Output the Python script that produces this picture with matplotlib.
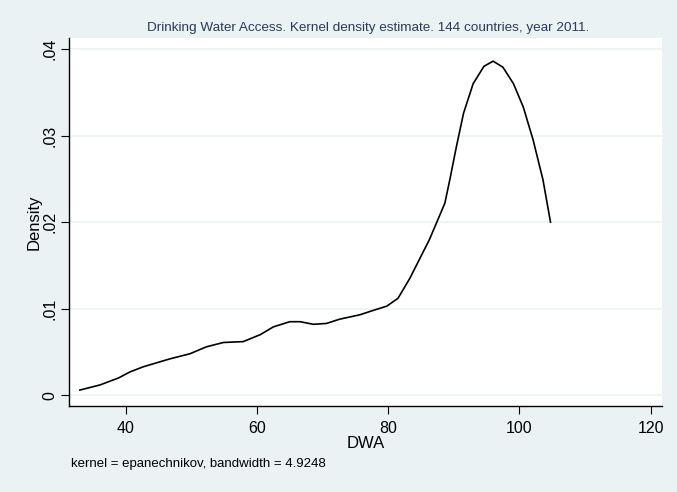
import matplotlib
matplotlib.use("Agg")
import matplotlib.pyplot as plt

# kernel density of DWA
dwa = [33.0, 36.1, 38.9, 40.65, 42.7, 46.7, 49.8, 52.3, 54.9, 57.9, 60.5, 62.5,
       65.0, 66.6, 68.6, 70.6, 72.65, 75.7, 77.7, 79.8, 81.5, 83.3, 86.3, 88.65,
       89.4, 90.4, 91.5, 92.96, 94.6, 96.0, 97.5, 99.1, 100.6, 102.1, 103.6, 104.75]
density = [.0006, .0012, .0020, .0027, .0033, .0042, .0048, .0056, .0061, .0062, .0070, .0079,
           .0085, .0085, .0082, .0083, .0088, .0093, .0098, .0103, .0112, .0135, .0180, .0222,
           .0249, .0287, .0326, .0360, .0380, .0386, .0379, .0360, .0333, .0295, .0249, .0200]

x_ticks = [40, 60, 80, 100, 120]
y_ticks = [0, .01, .02, .03, .04]
y_tick_labels = ["0", ".01", ".02", ".03", ".04"]

title = "Drinking Water Access. Kernel density estimate. 144 countries, year 2011."
note = "kernel = epanechnikov, bandwidth = 4.9248"

bg = "#eaf2f3"
plt.rcParams['font.family'] = ['Liberation Sans', 'DejaVu Sans']

fig = plt.figure(figsize=(6.77, 4.92), dpi=100, facecolor=bg)
ax = fig.add_axes([69.3 / 677, 1 - 405.5 / 492, 592.4 / 677, 367.2 / 492])
ax.set_facecolor("white")

ax.plot(dwa, density, color="black", lw=1.2, zorder=3)

ax.set_xlim(31.4, 121.7)
ax.set_ylim(-0.00118, 0.04124)
ax.set_xticks(x_ticks)
ax.set_yticks(y_ticks)
ax.set_yticklabels(y_tick_labels, rotation=90, va="center")
ax.tick_params(axis="both", labelsize=11.5, length=5.5, width=0.8, color="black")
ax.tick_params(axis="y", pad=3)
ax.tick_params(axis="x", pad=6)

ax.grid(axis="y", color=bg, lw=1.1, zorder=1)
ax.set_axisbelow(True)

for s in ["top", "right"]:
    ax.spines[s].set_visible(False)
for s in ["left", "bottom"]:
    ax.spines[s].set_linewidth(1.0)
    ax.spines[s].set_color("black")

ax.set_xlabel("DWA", fontsize=12, labelpad=0)
ax.set_ylabel("Density", fontsize=12, labelpad=0.5)

fig.text(368 / 677, 1 - 28 / 492, title, ha="center", va="center",
         fontsize=9.7, color="#2c3a5a")
fig.text(71 / 677, 1 - 464 / 492, note, ha="left", va="center", fontsize=9.5)

fig.savefig("out.png", dpi=100, facecolor=bg)
